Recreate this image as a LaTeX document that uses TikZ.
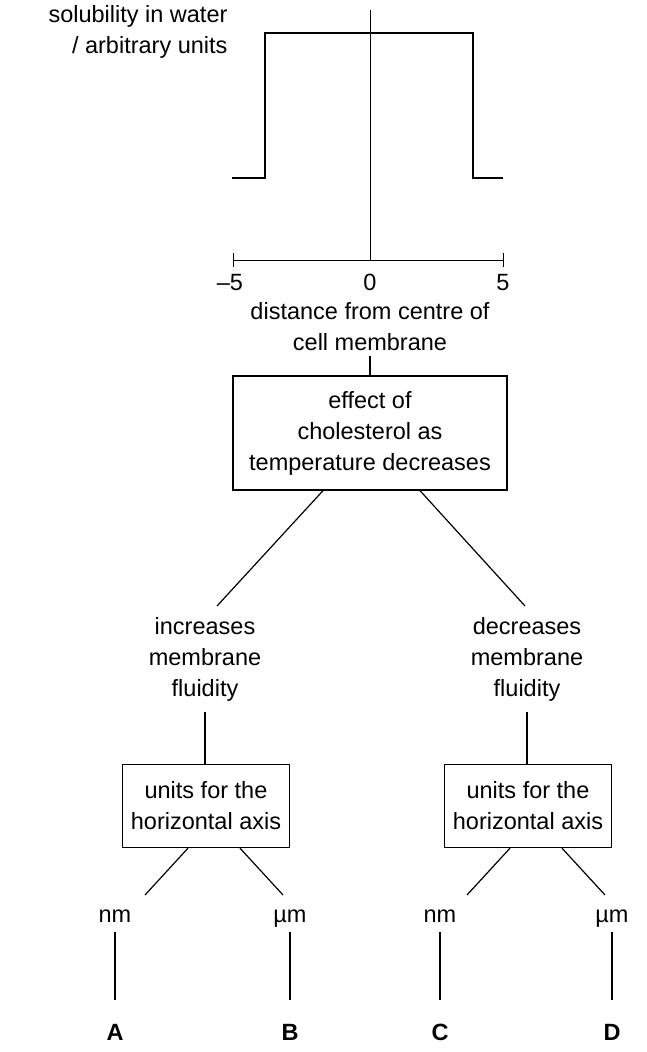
\documentclass[tikz,border=0pt]{standalone}
\usepackage{fontspec}
\setmainfont{Liberation Sans}
\usetikzlibrary{positioning}
\tikzset{
  lbl/.style={font=\fontsize{23.5}{31}\selectfont, align=center, inner sep=1pt},
  box/.style={lbl, draw, line width=1.3pt, inner sep=6pt},
  conn/.style={line width=1.2pt},
  letter/.style={lbl, font=\fontsize{23.5}{31}\selectfont\bfseries}
}
\begin{document}
\begin{tikzpicture}[x=1pt,y=-1pt]
  \useasboundingbox (0,0) rectangle (647,1052);
  % graph
  \draw[line width=0.8pt] (370,10) -- (370,260);
  \draw[line width=2.2pt] (232,178) -- (265,178) -- (265,33) -- (473,33) -- (473,178) -- (503,178);
  \draw[line width=0.8pt] (233,260) -- (503,260);
  \draw[line width=0.8pt] (233,253) -- (233,267) (503,253) -- (503,267);
  \node[lbl, anchor=base] (m5) at (230,290) {–5};
  \node[lbl, anchor=base] (z0) at (370,290) {0};
  \node[lbl, anchor=base] (p5) at (503,290) {5};
  \node[lbl, align=right] (ylab) at (138,32) {solubility in water\\/ arbitrary units};
  \node[lbl] (xlab) at (370,327) {distance from centre of\\cell membrane};
  % tree
  \node[box, minimum width=274pt, minimum height=114pt] (eff) at (370,433) {effect of\\cholesterol as\\temperature decreases};
  \draw[conn] (370,356) -- (eff.north);
  \node[lbl] (inc) at (205,659) {increases\\membrane\\fluidity};
  \node[lbl] (dec) at (527,659) {decreases\\membrane\\fluidity};
  \draw[conn] (eff.south -| 323,0) -- (217,606);
  \draw[conn] (eff.south -| 420,0) -- (525,606);
  \node[box, minimum width=167pt, minimum height=83pt] (ul) at (206,806) {units for the\\horizontal axis};
  \node[box, minimum width=167pt, minimum height=83pt] (ur) at (528,806) {units for the\\horizontal axis};
  \draw[conn] (205,712) -- (ul.north -| 205,0);
  \draw[conn] (527,712) -- (ur.north -| 527,0);
  \node[lbl, anchor=base] (nmA) at (115,922) {nm};
  \node[lbl, anchor=base] (umB) at (290,922) {µm};
  \node[lbl, anchor=base] (nmC) at (440,922) {nm};
  \node[lbl, anchor=base] (umD) at (612,922) {µm};
  \draw[conn] (ul.south -| 188,0) -- (145,895);
  \draw[conn] (ul.south -| 240,0) -- (283,895);
  \draw[conn] (ur.south -| 510,0) -- (467,895);
  \draw[conn] (ur.south -| 562,0) -- (605,895);
  \foreach \x/\n/\t in {115/A/A, 290/B/B, 440/C/C, 612/D/D} {
    \node[letter] (\n) at (\x,1032) {\t};
    \draw[conn] (\x,932) -- (\x,1000);
  }
\end{tikzpicture}
\end{document}
